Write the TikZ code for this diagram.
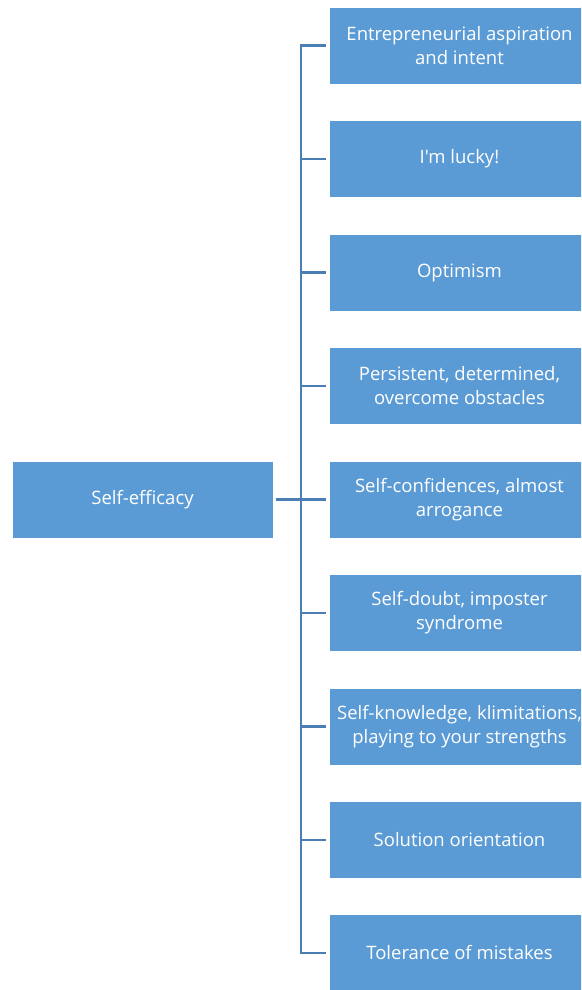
\documentclass[tikz,border=0pt]{standalone}
\usepackage{fontspec}
\setmainfont{Open Sans}[Ligatures=TeXOff]
\begin{document}
\begin{tikzpicture}[x=1pt,y=1pt,
  box/.style={draw=white, line width=0.6pt, fill=boxblue, text=white,
    minimum width=261pt, minimum height=77pt, inner sep=0pt, align=center,
    font=\fontsize{18.5}{24}\selectfont},
  conn/.style={draw=linkblue, line width=2.6pt}]
\definecolor{boxblue}{HTML}{5B9BD5}
\definecolor{linkblue}{HTML}{4A7EB5}
\useasboundingbox (0,0) rectangle (581,-990);
\clip (0,0) rectangle (581,-990);
% root topic
\node[box] (root) at (142.5,-499.5) {Self-efficacy};
% branch boxes
\node[box] (c1) at (459.5,-45.5) {Entrepreneurial aspiration\\and intent};
\node[box] (c2) at (459.5,-159) {I'm lucky!};
\node[box] (c3) at (459.5,-272.5) {Optimism};
\node[box] (c4) at (459.5,-386) {Persistent, determined,\\overcome obstacles};
\node[box] (c5) at (459.5,-499.5) {Self-confidences, almost\\arrogance};
\node[box] (c6) at (459.5,-613) {Self-doubt, imposter\\syndrome};
\node[box] (c7) at (459.5,-726.5) {Self-knowledge, klimitations,\\playing to your strengths};
\node[box] (c8) at (459.5,-840) {Solution orientation};
\node[box] (c9) at (459.5,-953) {Tolerance of mistakes};
% bus line
\coordinate (bus) at (301,-499.5);
\draw[conn, shorten <=3pt, shorten >=3pt] (c1.west) -- (c1.west -| bus) -- (c9.west -| bus) -- (c9.west);
\draw[conn, shorten <=3pt] (root.east) -- (bus);
\foreach \c in {c2,c3,c4,c5,c6,c7,c8}
  \draw[conn, shorten >=3pt] (\c.west -| bus) -- (\c.west);
\end{tikzpicture}
\end{document}
